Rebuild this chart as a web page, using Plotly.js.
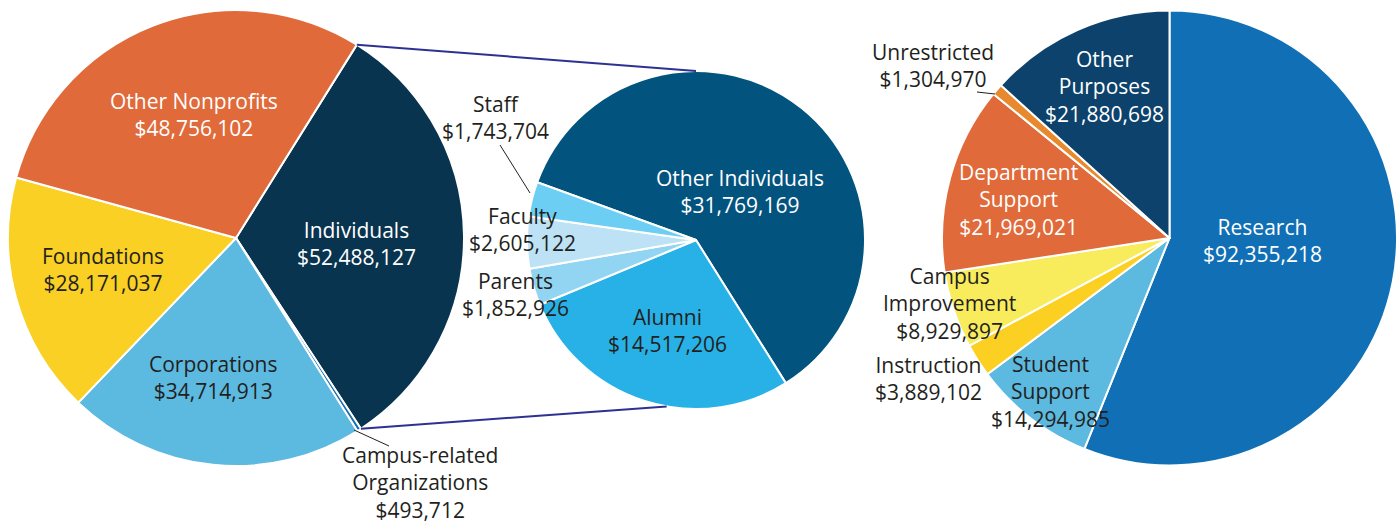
<!DOCTYPE html>
<html><head><meta charset="utf-8">
<script src="https://cdn.plot.ly/plotly-3.0.1.min.js"></script>
<style>html,body{margin:0;padding:0;background:#fff}#chart{width:1397px;height:524px}</style>
</head><body><div id="chart"></div>
<script>
// ---- data ----
const sourceLabels = ['Individuals', 'Campus-related Organizations', 'Corporations', 'Foundations', 'Other Nonprofits'];
const sourceValues = [52488127, 493712, 34714913, 28171037, 48756102];

const individualLabels = ['Other Individuals', 'Alumni', 'Parents', 'Faculty', 'Staff'];
const individualValues = [31769169, 14517206, 1852926, 2605122, 1743704];

const purposeLabels = ['Research', 'Student Support', 'Instruction', 'Campus Improvement', 'Department Support', 'Unrestricted', 'Other Purposes'];
const purposeValues = [92355218, 14294985, 3889102, 8929897, 21969021, 1304970, 21880698];

// ---- layout helpers ----
const W = 1397, H = 524;
const FONT = 'Open Sans';
const DARK = '#231f20';

const domL = {x: [8 / W, 464 / W], y: [1 - 466 / H, 1 - 10 / H]};
const domM = {x: [527 / W, 865 / W], y: [1 - 409 / H, 1 - 71 / H]};
const domR = {x: [942 / W, 1], y: [1 - 466 / H, 1 - 10 / H]};
const rotL = 32, rotM = -70, rotR = 0;

function geom(dom) {
  const cx = W * (dom.x[0] + dom.x[1]) / 2;
  const cy = H * (1 - (dom.y[0] + dom.y[1]) / 2);
  const r = Math.min(W * (dom.x[1] - dom.x[0]), H * (dom.y[1] - dom.y[0])) / 2;
  return {cx, cy, r};
}
function pt(g, deg) {
  const a = deg * Math.PI / 180;
  return [g.cx + g.r * Math.sin(a), g.cy - g.r * Math.cos(a)];
}
const px = x => x / W, py = y => 1 - y / H;
const money = v => '$' + v.toLocaleString('en-US');

const lineBreakName = {
  'Campus-related Organizations': 'Campus-related<br>Organizations',
  'Student Support': 'Student<br>Support',
  'Campus Improvement': 'Campus<br>Improvement',
  'Department Support': 'Department<br>Support',
  'Other Purposes': 'Other<br>Purposes'
};

// label placement (pixels) and colours
const labelPlace = {
  'Individuals': [356, 243, '#ffffff'],
  'Campus-related Organizations': [420, 482, DARK],
  'Corporations': [213, 377, DARK],
  'Foundations': [103, 269, DARK],
  'Other Nonprofits': [194, 115, '#ffffff'],
  'Other Individuals': [740, 192, '#ffffff'],
  'Alumni': [667, 330, DARK],
  'Parents': [515, 294, DARK],
  'Faculty': [522, 229, DARK],
  'Staff': [495, 117, DARK],
  'Research': [1262, 241, '#ffffff'],
  'Student Support': [1050, 391, DARK],
  'Instruction': [929, 378, DARK],
  'Campus Improvement': [949, 303, DARK],
  'Department Support': [1019, 200, '#ffffff'],
  'Unrestricted': [933, 66, DARK],
  'Other Purposes': [1104, 86, '#ffffff']
};

const annotations = [];
function addLabels(labels, values) {
  labels.forEach((lab, i) => {
    const p = labelPlace[lab];
    annotations.push({
      x: px(p[0]), y: py(p[1]), xref: 'paper', yref: 'paper',
      xanchor: 'center', yanchor: 'middle', showarrow: false,
      text: (lineBreakName[lab] || lab) + '<br>' + money(values[i]),
      font: {family: FONT, size: 21, color: p[2]}
    });
  });
}
addLabels(sourceLabels, sourceValues);
addLabels(individualLabels, individualValues);
addLabels(purposeLabels, purposeValues);

const sum = a => a.reduce((s, v) => s + v, 0);
const line = {color: '#ffffff', width: 2};

const traces = [
  {
    type: 'pie', labels: sourceLabels, values: sourceValues, domain: domL,
    sort: false, direction: 'clockwise', rotation: rotL, textinfo: 'none', hoverinfo: 'none',
    marker: {colors: ['#08344f', '#1c6fb3', '#5cb9e0', '#f9d023', '#e06a3a'], line: line},
    showlegend: false
  },
  {
    type: 'pie', labels: individualLabels, values: individualValues, domain: domM,
    sort: false, direction: 'clockwise', rotation: rotM, textinfo: 'none', hoverinfo: 'none',
    marker: {colors: ['#03537f', '#27b1e6', '#92d5f3', '#bde2f5', '#6ccef3'], line: line},
    showlegend: false
  },
  {
    type: 'pie', labels: purposeLabels, values: purposeValues, domain: domR,
    sort: false, direction: 'clockwise', rotation: rotR, textinfo: 'none', hoverinfo: 'none',
    marker: {colors: ['#1170b5', '#5cb9e0', '#fbd023', '#f9ec5c', '#e06a3a', '#e8892d', '#0c426b'], line: line},
    showlegend: false
  }
];

// connector lines between Individuals slice and the breakdown pie
const gL = geom(domL), gM = geom(domM);
const indStart = rotL, indEnd = rotL + 360 * sourceValues[0] / sum(sourceValues);
const a = pt(gL, indStart), b = pt(gM, 0);
const c = pt(gL, indEnd), d = pt(gM, 190);
const connColor = '#2e3192';
const shapes = [
  {type: 'line', xref: 'paper', yref: 'paper', x0: px(a[0]), y0: py(a[1]), x1: px(b[0]), y1: py(b[1]), line: {color: connColor, width: 2}},
  {type: 'line', xref: 'paper', yref: 'paper', x0: px(c[0]), y0: py(c[1]), x1: px(d[0]), y1: py(d[1]), line: {color: connColor, width: 2}},
  // leader lines
  {type: 'line', xref: 'paper', yref: 'paper', x0: px(354), y0: py(430), x1: px(389), y1: py(446), line: {color: DARK, width: 1}},
  {type: 'line', xref: 'paper', yref: 'paper', x0: px(500), y0: py(145), x1: px(530), y1: py(193), line: {color: DARK, width: 1}},
  {type: 'line', xref: 'paper', yref: 'paper', x0: px(977), y0: py(92), x1: px(995), y1: py(94), line: {color: DARK, width: 1}}
];

const layout = {
  width: W, height: H,
  margin: {l: 0, r: 0, t: 0, b: 0},
  paper_bgcolor: '#ffffff', plot_bgcolor: '#ffffff',
  showlegend: false,
  annotations: annotations,
  shapes: shapes
};

Plotly.newPlot('chart', traces, layout, {displayModeBar: false, staticPlot: true});
</script>
</body></html>
